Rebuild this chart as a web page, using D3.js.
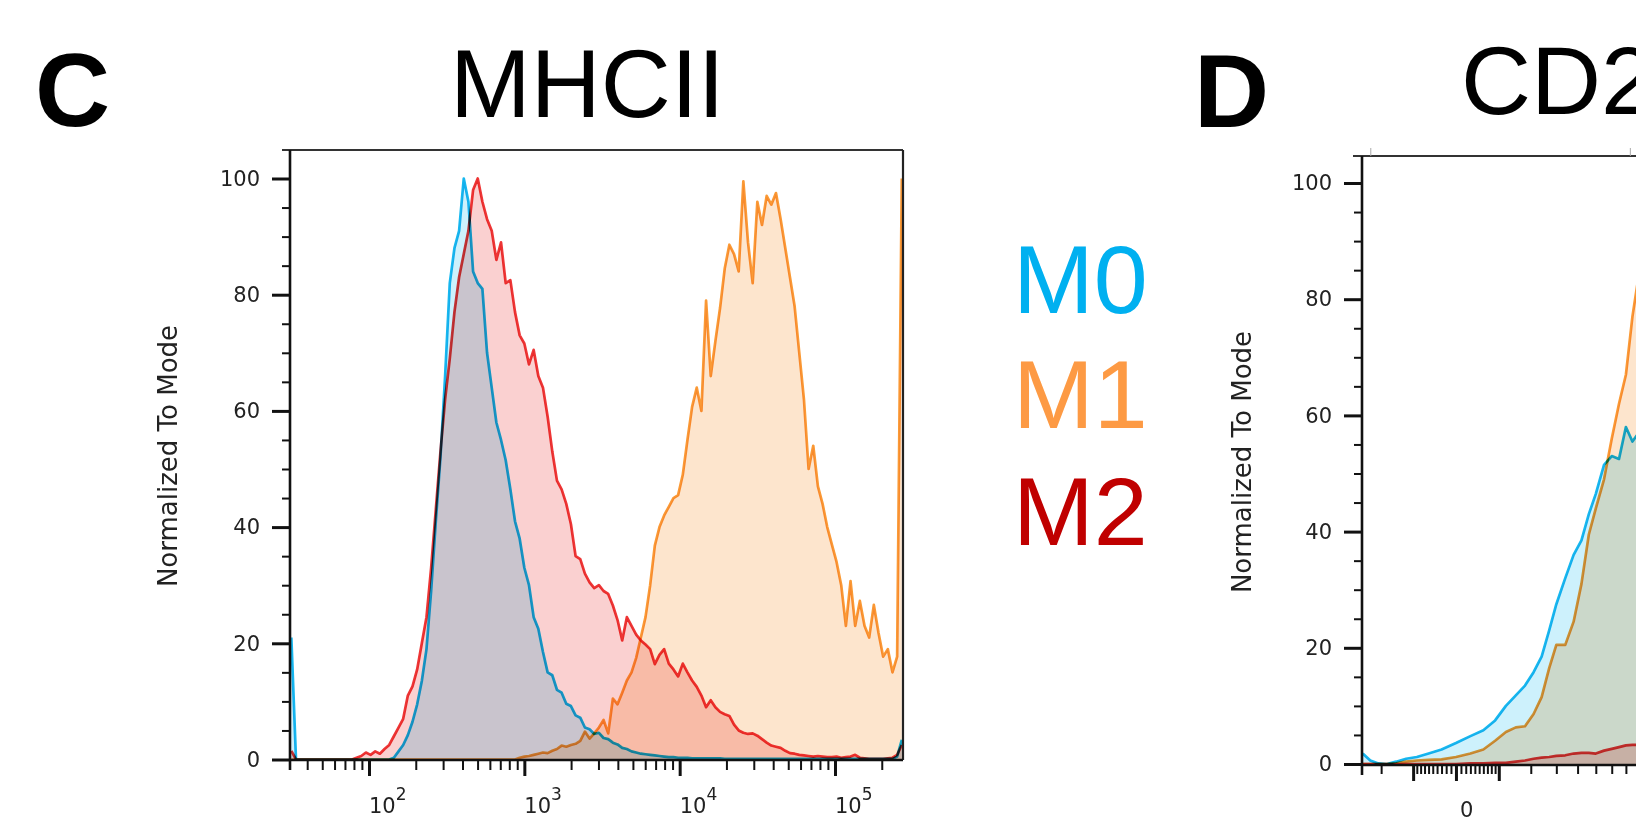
<!DOCTYPE html>
<html><head><meta charset="utf-8">
<script src="https://cdn.jsdelivr.net/npm/d3@7"></script>
<style>
body{margin:0;background:#fff}
svg{display:block}
</style></head><body>
<svg id="chart" width="1636" height="831"></svg>
<script>
// ================= DATA =================
const seriesNames = ["M0", "M1", "M2"];
const lineColors  = ["#17b8ef", "#fa9a36", "#ee3636"];
const fillColors  = ["#cdf1fc", "#fde5cd", "#fad0d0"];
const legendColors = ["#00b0f0", "#fd9a44", "#c00000"];

// Panel C – MHCII histogram, bins every 0.03 decade from 10^1.5
const mhcLogStart = 1.5;
const mhcLogStep = 0.03;
const mhcM0 = [21,0,0,0,0,0,0,0,0,0,0,0,0,0,0,0,0,0,0,0,0,0,
  0.3,1.4,2.5,4.2,6.5,9.5,13.5,19,29,41,
  52,66,82,88,91,100,96,84,82,81,
  70,64,58,55,51.5,46.5,41,38,33,30,
  24.5,22.5,18.5,15,14.5,12,11.5,9.6,9.2,7.6,
  7.2,5.5,5.2,4.4,4.6,3.7,3.5,2.9,2.6,2,
  1.8,1.4,1.2,1,0.9,0.8,0.7,0.6,0.5,0.4,
  0.4,0.3,0.3,0.3,0.2,0.2,0.2,0.2,0.2,0.2,
  0.2,0.1,0.1,0.1,0.1,0.1,0.1,0.1,0.1,0.1,
  0.1,0.1,0.1,0.1,0.1,0.1,0.1,0.1,0.1,0.1,
  0.1,0.1,0.1,0.1,0.1,0.1,0.1,0.1,0.1,0.1,
  0.1,0.1,0.1,0.1,0.1,0.1,0.1,0.1,0.5,3.4];
const mhcM1 = [0,0,0,0,0,0,0,0,0,0,0,0,0,0,0,0,0,0,0,0,0,0,0,0,0,
  0,0,0,0,0,0,0,0,0,0,0,0,0,0,0,0,0,0,0,0,0,0,0,0,
  0.3,0.5,0.6,0.8,1,1.2,1.1,1.5,1.8,2.4,
  2.2,2.5,2.7,3.2,4.8,3.6,4.5,5.5,6.8,4.5,
  10.5,9.5,11.5,13.6,15,17.5,21,24.5,30,36.8,
  40,42,43.5,45,45.5,49,55,60.7,64,60,
  79,66,72,77.7,84.5,88.6,87,84,99.5,89,
  82,96,92,97,95.5,97.5,93,88,83,78,
  70,62,50,54,47,44,40,37,34,30,
  23,30.7,23,27.3,23,21,26.6,21.8,17.7,19,
  15,17.7,100];
const mhcM2 = [1.5,0,0,0,0,0,0,0,0,0,0,0,0,0,
  0.3,0.6,1.2,0.8,1.4,1,1.8,2.5,4,5.5,
  7,11,12.6,15.5,20,24.5,33,43,53,62,
  69,77,83,87,91,98,100,96,93,91,
  86,89,82,82.5,77,73,71.6,68,70.5,66,
  64,59,53,48,46.5,44,40.5,35,34.5,32,
  30.5,29.5,30,29,28.5,26.5,24,20.5,24.5,23,
  21.5,20.5,19.8,19,16.4,18,19,16.5,15.5,14.3,
  16.5,15,13.6,12.5,11,9,10.2,9,8.2,7.8,
  7.5,6,5,4.6,4.4,4.5,4.1,3.5,2.9,2.4,
  2.2,2,1.5,1.1,1,0.8,0.7,0.6,0.5,0.6,
  0.5,0.4,0.4,0.5,0.3,0.4,0.5,0.8,0.3,0.2,
  0.1,0.1,0.1,0.1,0.2,0.3,0.8,2.5];
const mhcMajorTicks = [100, 1000, 10000, 100000];
const mhcTickBase = ["10", "10", "10", "10"];
const mhcTickExp  = ["2", "3", "4", "5"];

// Panel D – CD206 histogram (biexponential channel values)
const cd206X  = [-270,-240,-210,-180,-150,-120,-90,-60,-30,0,30,60,90,120,150,180,210,240,270,300,340,380,420,460,500,550,600,650,700,750,800,900,1000];
const cd206M0 = [1.8,0.6,0.1,0,0.4,0.9,1.2,1.8,2.5,3.6,4.8,5.8,7.5,10,11.8,13.5,15.8,18.5,23,27.5,32,36,38.5,43,46.5,51.5,53,52.5,58,55.5,57,58,59];
const cd206M1 = [0,0,0,0,0.1,0.4,0.6,0.7,0.8,1.2,1.8,2.5,4,5.5,6.3,6.5,8.6,11.5,16.5,20.5,20.5,24.5,31,39.5,44,49,56,62,67,77,84,92,97];
const cd206M2 = [0,0,0,0,0,0,0,0,0,0,0.1,0.1,0.2,0.2,0.4,0.6,0.9,1.1,1.2,1.4,1.5,1.8,1.9,1.9,1.8,2.3,2.6,2.9,3.2,3.3,3.3,3.4,3.5];
const cd206MajorTicks = [-100, 0, 100, 1000];
const cd206MinorTicks = [-200,-90,-80,-70,-60,-50,-40,-30,-20,-10,10,20,30,40,50,60,70,80,90,200,300,400,500,600,700,800,900];
const cd206TickLabels = [{v: 0, t: "0"}];
const cd206TopTicks = [-240, 730];

const yMajorTicks = [0, 20, 40, 60, 80, 100];
const yMinorTicks = [5,10,15,25,30,35,45,50,55,65,70,75,85,90,95];
const yLabel = "Normalized To Mode";

// ================= DRAW =================
const svg = d3.select("#chart");
svg.append("rect").attr("width", 1636).attr("height", 831).attr("fill", "#fff");
const tickFont = "'DejaVu Sans', Verdana, sans-serif";
const arial = "'Liberation Sans', Arial, sans-serif";

function styleAxis(g, w) {
  g.select(".domain").remove();
  g.selectAll(".tick line").attr("stroke", "#111").attr("stroke-width", w);
  g.selectAll(".tick text").attr("font-family", tickFont).attr("font-size", 21).attr("fill", "#222");
}

function drawYAxis(y, x0) {
  const gMaj = svg.append("g").attr("transform", `translate(${x0},0)`)
    .call(d3.axisLeft(y).tickValues(yMajorTicks).tickSize(18).tickPadding(12).tickFormat(d3.format("d")));
  styleAxis(gMaj, 3);
  const gMin = svg.append("g").attr("transform", `translate(${x0},0)`)
    .call(d3.axisLeft(y).tickValues(yMinorTicks).tickSize(8).tickFormat(""));
  styleAxis(gMin, 2);
}

function drawSeries(clipId, pts, x, y) {
  const area = d3.area().x(d => x(d[0])).y0(y(0)).y1(d => y(d[1]));
  const line = d3.line().x(d => x(d[0])).y(d => y(d[1]));
  const g = svg.append("g").attr("clip-path", `url(#${clipId})`);
  pts.forEach((p, k) => {
    g.append("path").attr("d", area(p)).attr("fill", fillColors[k])
      .style("mix-blend-mode", "multiply");
  });
  pts.forEach((p, k) => {
    g.append("path").attr("d", line(p)).attr("fill", "none")
      .attr("stroke", lineColors[k]).attr("stroke-width", 2.7)
      .attr("stroke-linejoin", "round")
      .style("mix-blend-mode", "multiply");
  });
}

const defs = svg.append("defs");

// ---------- Panel C ----------
const cL = 290, cR = 903, cT = 150, cAx = 760;
const xC = d3.scaleLog().domain([31, 274000]).range([cL, cR]);
const yC = d3.scaleLinear().domain([0, 100]).range([759.5, 178.5]);
defs.append("clipPath").attr("id", "clipC").append("rect")
  .attr("x", cL).attr("y", cT - 10).attr("width", cR - cL).attr("height", cAx - cT + 10);

const binX = i => Math.pow(10, mhcLogStart + i * mhcLogStep);
const mhcSeries = [mhcM0, mhcM1, mhcM2].map(arr => arr.map((v, i) => [binX(i), v]));
drawSeries("clipC", mhcSeries, xC, yC);

// frame & axes lines
svg.append("line").attr("x1", cL - 8).attr("x2", cR).attr("y1", cT).attr("y2", cT).attr("stroke", "#333").attr("stroke-width", 2.2);
svg.append("line").attr("x1", cR).attr("x2", cR).attr("y1", cT).attr("y2", cAx).attr("stroke", "#222").attr("stroke-width", 2.2);
svg.append("line").attr("x1", cL).attr("x2", cR).attr("y1", cAx).attr("y2", cAx).attr("stroke", "#111").attr("stroke-width", 2.6);
svg.append("line").attr("x1", cL).attr("x2", cL).attr("y1", cT).attr("y2", cAx + 10).attr("stroke", "#111").attr("stroke-width", 2.6);

drawYAxis(yC, cL);
const mhcMinor = [];
[10, 100, 1000, 10000, 100000].forEach(b => [2,3,4,5,6,7,8,9].forEach(m => {
  const v = b * m; if (v > xC.domain()[0] && v < xC.domain()[1]) mhcMinor.push(v);
}));
styleAxis(svg.append("g").attr("transform", `translate(0,${cAx})`)
  .call(d3.axisBottom(xC).tickValues(mhcMajorTicks).tickSize(16).tickFormat("")), 3);
styleAxis(svg.append("g").attr("transform", `translate(0,${cAx})`)
  .call(d3.axisBottom(xC).tickValues(mhcMinor).tickSize(10).tickFormat("")), 2);

mhcMajorTicks.forEach((v, i) => {
  const t = svg.append("text").attr("x", xC(v)).attr("y", 813)
    .attr("font-family", tickFont).attr("font-size", 21).attr("fill", "#222");
  t.append("tspan").text(mhcTickBase[i]);
  t.append("tspan").attr("dy", -13).attr("font-size", 17).text(mhcTickExp[i]);
});

svg.append("text").attr("transform", "translate(177,456) rotate(-90)")
  .attr("text-anchor", "middle").attr("font-family", tickFont).attr("font-size", 26)
  .attr("fill", "#222").text(yLabel);

svg.append("text").attr("x", 35).attr("y", 126).attr("font-family", arial)
  .attr("font-weight", "bold").attr("font-size", 104).attr("fill", "#000").text("C");
svg.append("text").attr("x", 450).attr("y", 117).attr("font-family", arial)
  .attr("font-size", 97).attr("fill", "#000").text("MHCII");

// legend
const legendY = [313, 428, 545];
seriesNames.forEach((n, i) => {
  svg.append("text").attr("x", 1013).attr("y", legendY[i]).attr("font-family", arial)
    .attr("font-size", 97).attr("fill", legendColors[i]).text(n);
});

// ---------- Panel D ----------
const dL = 1362, dR = 1975, dT = 156, dAx = 765;
const xD = d3.scaleSymlog().constant(250).domain([-273, 14500]).range([dL, dR]);
const yD = d3.scaleLinear().domain([0, 100]).range([764, 183]);
defs.append("clipPath").attr("id", "clipD").append("rect")
  .attr("x", dL).attr("y", dT - 10).attr("width", dR - dL).attr("height", dAx - dT + 10);

const cdSeries = [cd206M0, cd206M1, cd206M2].map(arr => arr.map((v, i) => [cd206X[i], v]));
drawSeries("clipD", cdSeries, xD, yD);

svg.append("line").attr("x1", dL - 9).attr("x2", dR).attr("y1", dT).attr("y2", dT).attr("stroke", "#333").attr("stroke-width", 2.2);
svg.append("line").attr("x1", dL).attr("x2", dR).attr("y1", dAx).attr("y2", dAx).attr("stroke", "#111").attr("stroke-width", 2.6);
svg.append("line").attr("x1", dL).attr("x2", dL).attr("y1", dT).attr("y2", dAx + 10).attr("stroke", "#111").attr("stroke-width", 2.6);
const gTop = svg.append("g").attr("transform", `translate(0,${dT})`)
  .call(d3.axisTop(xD).tickValues(cd206TopTicks).tickSize(8).tickFormat(""));
gTop.select(".domain").remove();
gTop.selectAll(".tick line").attr("stroke", "#aaa").attr("stroke-width", 1);

drawYAxis(yD, dL);
styleAxis(svg.append("g").attr("transform", `translate(0,${dAx})`)
  .call(d3.axisBottom(xD).tickValues(cd206MajorTicks).tickSize(16).tickFormat("")), 3);
styleAxis(svg.append("g").attr("transform", `translate(0,${dAx})`)
  .call(d3.axisBottom(xD).tickValues(cd206MinorTicks).tickSize(9).tickFormat("")), 2);
cd206TickLabels.forEach(d => {
  svg.append("text").attr("x", xD(d.v) + 4).attr("y", 817)
    .attr("font-family", tickFont).attr("font-size", 21).attr("fill", "#222").text(d.t);
});

svg.append("text").attr("transform", "translate(1251,462) rotate(-90)")
  .attr("text-anchor", "middle").attr("font-family", tickFont).attr("font-size", 26)
  .attr("fill", "#222").text(yLabel);

svg.append("text").attr("x", 1194).attr("y", 127).attr("font-family", arial)
  .attr("font-weight", "bold").attr("font-size", 104).attr("fill", "#000").text("D");
svg.append("text").attr("x", 1461).attr("y", 114).attr("font-family", arial)
  .attr("font-size", 97).attr("fill", "#000").text("CD206");
</script>
</body></html>
